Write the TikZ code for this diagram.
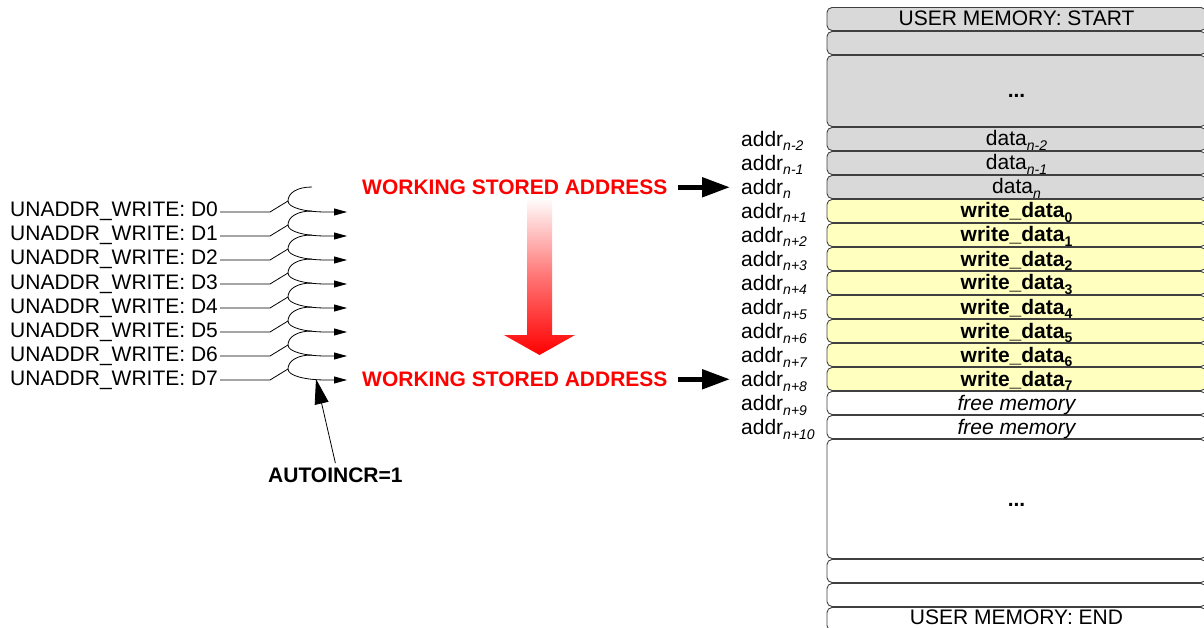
\documentclass[tikz,border=0pt]{standalone}
\usepackage{fontspec}
\setmainfont{Liberation Sans}
\usetikzlibrary{arrows.meta}
\definecolor{memgray}{HTML}{D9D9D9}
\definecolor{memyellow}{HTML}{FFFFC0}
\newcommand\sbi[1]{\raisebox{-4.5pt}{\fontsize{14}{14}\selectfont\itshape #1}}
\newcommand\sbb[1]{\raisebox{-4.5pt}{\fontsize{14}{14}\selectfont\bfseries #1}}
\begin{document}
\begin{tikzpicture}[x=1pt,y=-1pt,
  lab/.style={inner sep=0pt, font=\fontsize{21}{24}\selectfont},
  wsa/.style={lab, text=red, font=\fontsize{21}{24}\selectfont\bfseries, anchor=base west},
  cell/.style={draw=black!75, line width=0.9pt, rounded corners=5pt, minimum width=379pt,
    inner sep=0pt, text height=17pt, text depth=3pt, font=\fontsize{21}{24}\selectfont},
  gcell/.style={cell, fill=memgray},
  ycell/.style={cell, fill=memyellow, font=\fontsize{21}{24}\selectfont\bfseries},
  wcell/.style={cell, fill=white},
  thin/.style={line width=0.8pt, black},
  smallarrow/.style={thin, -{Triangle[length=13pt,width=7pt]}},
  bigarrow/.style={line width=5pt, -{Triangle[length=28pt,width=19pt]}},
]
\clip (0,0) rectangle (1204,628);

% memory cells
\node[gcell, minimum height=23pt] (m0) at (1016.5,19) {USER MEMORY: START};
\node[gcell, minimum height=23pt] (m1) at (1016.5,43) {};
\node[gcell, minimum height=71pt] (m2) at (1016.5,91) {\textbf{...}};
\node[gcell, minimum height=23pt] (m5) at (1016.5,139) {data\sbi{n-2}};
\node[gcell, minimum height=23pt] (m6) at (1016.5,163) {data\sbi{n-1}};
\node[gcell, minimum height=23pt] (m7) at (1016.5,187) {data\sbi{n}};
\foreach \i in {0,...,7} {
  \node[ycell, minimum height=23pt] (w\i) at (1016.5,211+24*\i) {write\_data\sbb{\i}};
}
\node[wcell, minimum height=23pt] (m16) at (1016.5,403) {\itshape free memory};
\node[wcell, minimum height=23pt] (m17) at (1016.5,427) {\itshape free memory};
\node[wcell, minimum height=119pt] (m18) at (1016.5,499) {\textbf{...}};
\node[wcell, minimum height=23pt] (m23) at (1016.5,571) {};
\node[wcell, minimum height=23pt] (m24) at (1016.5,595) {};
\node[wcell, minimum height=23pt] (m25) at (1016.5,619) {};
\node[lab, anchor=base] (m25t) at (1016.5,624) {USER MEMORY: END};

% address labels
\node[lab, anchor=base west] (a5) at (741,146.5) {addr\sbi{n-2}};
\node[lab, anchor=base west] (a6) at (741,170.5) {addr\sbi{n-1}};
\node[lab, anchor=base west] (a7) at (741,194.5) {addr\sbi{n}};
\foreach \k/\s in {8/n+1,9/n+2,10/n+3,11/n+4,12/n+5,13/n+6,14/n+7,15/n+8,16/n+9,17/n+10} {
  \node[lab, anchor=base west] (a\k) at (741,26.5+24*\k) {addr\sbi{\s}};
}

% working stored address
\node[wsa] (ws1) at (362,194.5) {WORKING STORED ADDRESS};
\node[wsa] (ws2) at (362,386.5) {WORKING STORED ADDRESS};
\draw[bigarrow] ([xshift=10pt]ws1.east) -- ([xshift=-11pt]ws1.east -| a7.west);
\draw[bigarrow] ([xshift=10pt]ws2.east) -- ([xshift=-11pt]ws2.east -| a15.west);

% red gradient arrow
\shade[top color=red!2, bottom color=red, middle color=red!55]
  (527,200) -- (552,200) -- (552,335) -- (575,335) -- (539.5,355) -- (504,335) -- (527,335) -- cycle;

% inputs
\foreach \i in {0,...,7} {
  \pgfmathsetmacro\y{212+24*\i}
  \node[lab, anchor=base west] (u\i) at (10,\y+5) {UNADDR\_WRITE: D\i};
  \coordinate (k\i) at (270,\y);
  \coordinate (j\i) at (288,\y-11);
  \coordinate (t\i) at (312,\y-25);
  \coordinate (o\i) at (347,\y);
  \draw[thin] ([xshift=2pt]u\i.east |- k\i) -- (k\i) -- (j\i);
  \draw[smallarrow] (t\i) .. controls (297,\y-25) and (288,\y-19) .. (j\i)
     .. controls (288,\y-4) and (306,\y) .. (326,\y) -- (o\i);
}

% autoincr
\node[lab, font=\fontsize{21}{24}\selectfont\bfseries, anchor=base west] (ai) at (268,482) {AUTOINCR=1};
\coordinate (ptr) at (316,379);
\draw[thin, -{Triangle[length=25pt,width=14pt]}] ([yshift=4pt]ai.north) -- (ptr);
\end{tikzpicture}
\end{document}
